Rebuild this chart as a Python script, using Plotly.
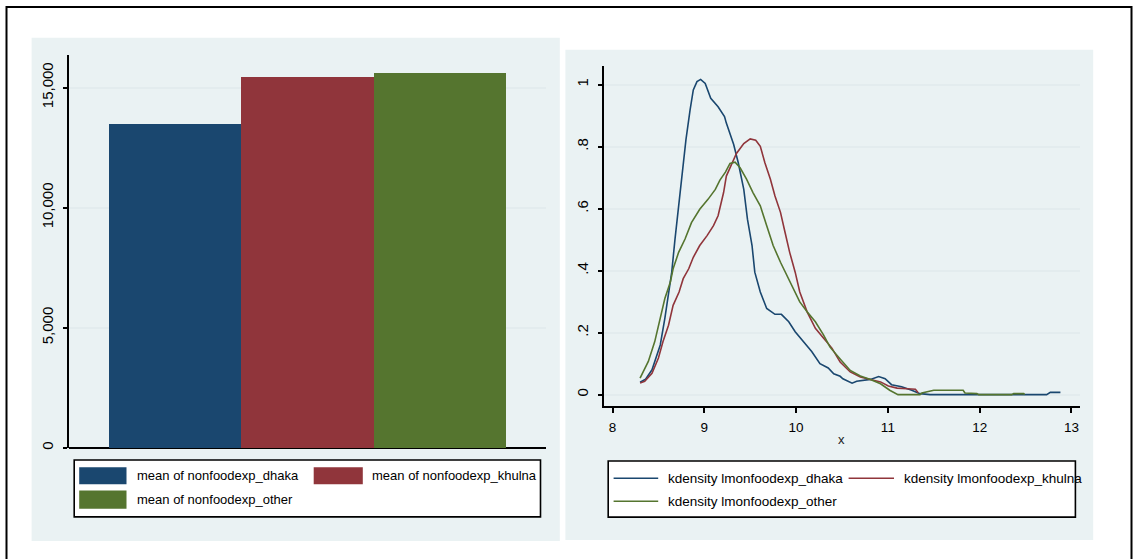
import plotly.graph_objects as go

W, H = 1135, 559

# ---------------- data ----------------
bar_labels = ["mean of nonfoodexp_dhaka", "mean of nonfoodexp_khulna", "mean of nonfoodexp_other"]
bar_cats = ["dhaka", "khulna", "other"]
bar_values = [13500, 15450, 15610]
bar_colors = ["#1a476f", "#90353b", "#55752f"]

bar_yticks = [0, 5000, 10000, 15000]
bar_yticktext = ["0", "5,000", "10,000", "15,000"]

kd_labels = ["kdensity lmonfoodexp_dhaka", "kdensity lmonfoodexp_khulna", "kdensity lmonfoodexp_other"]

dhaka_x = [8.30, 8.36, 8.43, 8.52, 8.57, 8.61, 8.645, 8.68, 8.72, 8.76, 8.80, 8.845, 8.88, 8.92,
           8.96, 9.01, 9.07, 9.15, 9.22, 9.24, 9.32, 9.37, 9.43, 9.47, 9.52, 9.55, 9.61, 9.68,
           9.77, 9.84, 9.92, 9.99, 10.08, 10.17, 10.26, 10.35, 10.41, 10.48, 10.51, 10.61, 10.66,
           10.81, 10.90, 10.97, 11.04, 11.15, 11.26, 11.35, 11.46, 12.73, 12.77, 12.88]
dhaka_y = [0.040, 0.050, 0.080, 0.160, 0.246, 0.331, 0.395, 0.500, 0.610, 0.716, 0.823, 0.919, 0.983, 1.010,
           1.017, 1.004, 0.956, 0.929, 0.897, 0.876, 0.807, 0.748, 0.662, 0.566, 0.481, 0.395, 0.331, 0.278,
           0.259, 0.259, 0.235, 0.203, 0.171, 0.139, 0.100, 0.086, 0.067, 0.059, 0.051, 0.037, 0.043,
           0.049, 0.058, 0.051, 0.032, 0.025, 0.014, 0.003, 0.000, 0.000, 0.007, 0.007]

khulna_x = [8.30, 8.35, 8.43, 8.50, 8.55, 8.61, 8.66, 8.725, 8.77, 8.83, 8.88, 8.95, 9.03, 9.10, 9.15,
            9.19, 9.21, 9.24, 9.30, 9.35, 9.43, 9.50, 9.56, 9.61, 9.66, 9.72, 9.77, 9.83, 9.88, 9.93,
            9.99, 10.04, 10.12, 10.21, 10.30, 10.39, 10.48, 10.59, 10.70, 10.81, 10.92, 11.005, 11.10,
            11.21, 11.30, 11.33]
khulna_y = [0.037, 0.043, 0.069, 0.118, 0.171, 0.224, 0.288, 0.331, 0.374, 0.406, 0.443, 0.481, 0.513, 0.545, 0.577,
            0.625, 0.652, 0.705, 0.748, 0.778, 0.810, 0.825, 0.821, 0.801, 0.748, 0.695, 0.641, 0.588, 0.523, 0.459,
            0.395, 0.331, 0.267, 0.214, 0.182, 0.150, 0.105, 0.073, 0.057, 0.049, 0.041, 0.028, 0.021,
            0.019, 0.017, 0.006]

other_x = [8.30, 8.39, 8.46, 8.52, 8.57, 8.63, 8.66, 8.72, 8.79, 8.86, 8.95, 9.04, 9.12, 9.17, 9.23,
           9.28, 9.335, 9.39, 9.46, 9.53, 9.61, 9.68, 9.75, 9.83, 9.90, 9.97, 10.04, 10.12, 10.21, 10.30,
           10.37, 10.48, 10.59, 10.70, 10.81, 10.92, 11.02, 11.11, 11.35, 11.37, 11.50, 11.82, 11.84,
           11.97, 11.99, 12.35, 12.37, 12.48, 12.49]
other_y = [0.053, 0.107, 0.171, 0.246, 0.310, 0.363, 0.406, 0.459, 0.502, 0.555, 0.598, 0.630, 0.662, 0.692, 0.718,
           0.746, 0.750, 0.732, 0.695, 0.652, 0.609, 0.545, 0.481, 0.427, 0.385, 0.342, 0.299, 0.267, 0.235, 0.192,
           0.153, 0.115, 0.078, 0.060, 0.049, 0.035, 0.014, 0.000, 0.000, 0.005, 0.014, 0.014, 0.005,
           0.003, 0.000, 0.000, 0.003, 0.003, 0.000]

kd_xticks = [8, 9, 10, 11, 12, 13]
kd_yticks = [0, 0.2, 0.4, 0.6, 0.8, 1]
kd_yticktext = ["0", ".2", ".4", ".6", ".8", "1"]

# ---------------- helpers (pixel -> paper) ----------------
def X(px):
    return px / W

def Y(py):
    return 1 - py / H

FONT = "Liberation Sans, Arial, sans-serif"
BG = "#eaf2f3"
GRID = "#e3ecee"

fig = go.Figure()

for lab, cat, val, col in zip(bar_labels, bar_cats, bar_values, bar_colors):
    fig.add_trace(go.Bar(x=[cat], y=[val], name=lab, marker=dict(color=col, line=dict(width=0)),
                         xaxis="x", yaxis="y", showlegend=False))

kd_colors = bar_colors
for lab, xs, ys, col in zip(kd_labels, [dhaka_x, khulna_x, other_x], [dhaka_y, khulna_y, other_y], kd_colors):
    fig.add_trace(go.Scatter(x=xs, y=ys, mode="lines", name=lab, line=dict(color=col, width=1.6),
                             xaxis="x2", yaxis="y2", showlegend=False))

shapes = []
# outer frame
shapes.append(dict(type="rect", xref="paper", yref="paper", x0=X(6.5), x1=X(1131.5), y0=Y(575), y1=Y(7),
                   line=dict(color="black", width=2), fillcolor="rgba(0,0,0,0)", layer="above"))
# panel backgrounds
shapes.append(dict(type="rect", xref="paper", yref="paper", x0=X(31.6), x1=X(559.8), y0=Y(543), y1=Y(38),
                   line=dict(width=0), fillcolor=BG, layer="below"))
shapes.append(dict(type="rect", xref="paper", yref="paper", x0=X(565.4), x1=X(1093.2), y0=Y(542), y1=Y(50),
                   line=dict(width=0), fillcolor=BG, layer="below"))

# left legend
shapes.append(dict(type="rect", xref="paper", yref="paper", x0=X(74.2), x1=X(540.5), y0=Y(518.7), y1=Y(461.7),
                   line=dict(color="black", width=1.6), fillcolor="white", layer="above"))
leg_sw = [(79.2, 126.5, 469, 486), (313.7, 362.8, 469, 486), (79.2, 126.5, 492.3, 510.7)]
leg_tx = [(134.5, 477.5), (370, 477.5), (134.5, 501.5)]
annotations = []
for (x0, x1, y0, y1), (tx, ty), col, lab in zip(leg_sw, leg_tx, bar_colors, bar_labels):
    shapes.append(dict(type="rect", xref="paper", yref="paper", x0=X(x0), x1=X(x1), y0=Y(y1), y1=Y(y0),
                       line=dict(width=0), fillcolor=col, layer="above"))
    annotations.append(dict(xref="paper", yref="paper", x=X(tx), y=Y(ty), text=lab, showarrow=False,
                            xanchor="left", yanchor="middle", font=dict(family=FONT, size=13, color="black")))

# right legend
shapes.append(dict(type="rect", xref="paper", yref="paper", x0=X(608.2), x1=X(1075.4), y0=Y(519), y1=Y(462.7),
                   line=dict(color="black", width=1.6), fillcolor="white", layer="above"))
kleg_ln = [(613.6, 658.2, 480), (848.6, 894, 480), (613.6, 658.2, 503)]
kleg_tx = [(666.4, 480), (902, 480), (666.4, 503)]
for (x0, x1, yy), (tx, ty), col, lab in zip(kleg_ln, kleg_tx, kd_colors, kd_labels):
    shapes.append(dict(type="line", xref="paper", yref="paper", x0=X(x0), x1=X(x1), y0=Y(yy), y1=Y(yy),
                       line=dict(color=col, width=1.6), layer="above"))
    annotations.append(dict(xref="paper", yref="paper", x=X(tx), y=Y(ty), text=lab, showarrow=False,
                            xanchor="left", yanchor="middle", font=dict(family=FONT, size=13.5, color="black")))

# x axis title of density plot
annotations.append(dict(xref="paper", yref="paper", x=X(841), y=Y(441), text="x", showarrow=False,
                        xanchor="center", yanchor="middle", font=dict(family=FONT, size=13, color="#222")))

fig.update_layout(
    width=W, height=H,
    margin=dict(l=0, r=0, t=0, b=0),
    paper_bgcolor="white", plot_bgcolor="white",
    barmode="overlay", bargap=0,
    font=dict(family=FONT, color="black"),
    showlegend=False,
    shapes=shapes, annotations=annotations,
    xaxis=dict(domain=[X(69), X(546.4)], anchor="y", range=[-0.802, 2.802], showticklabels=False,
               ticks="", showgrid=False, zeroline=False, showline=False, fixedrange=True),
    yaxis=dict(domain=[Y(449.5), Y(55)], anchor="x", range=[0, 16361], tickvals=bar_yticks,
               ticktext=bar_yticktext, tickangle=-90, ticks="outside", ticklen=4, tickwidth=1.5,
               tickcolor="black", showline=True, linecolor="black", linewidth=1.5,
               showgrid=True, gridcolor=GRID, gridwidth=1.5, zeroline=True, zerolinecolor="black",
               zerolinewidth=2, tickfont=dict(family=FONT, size=15, color="black"), ticklabelstandoff=4),
    xaxis2=dict(domain=[X(604), X(1079.6)], anchor="y2", range=[7.907, 13.089], tickvals=kd_xticks,
                ticks="outside", ticklen=5, tickwidth=1.5, tickcolor="black", showline=True,
                linecolor="black", linewidth=1.5, showgrid=False, zeroline=False,
                tickfont=dict(family=FONT, size=13.5, color="black"), ticklabelstandoff=3),
    yaxis2=dict(domain=[Y(407.7), Y(66.7)], anchor="x2", range=[-0.0376, 1.0588], tickvals=kd_yticks,
                ticktext=kd_yticktext, tickangle=-90, ticks="outside", ticklen=4, tickwidth=1.5,
                tickcolor="black", showline=True, linecolor="black", linewidth=1.5, showgrid=True,
                gridcolor=GRID, gridwidth=1.5, zeroline=False,
                tickfont=dict(family=FONT, size=15, color="black"), ticklabelstandoff=4),
)

fig.write_html("out.html", config={"displayModeBar": False},
               post_script="document.body.style.margin='0';")
